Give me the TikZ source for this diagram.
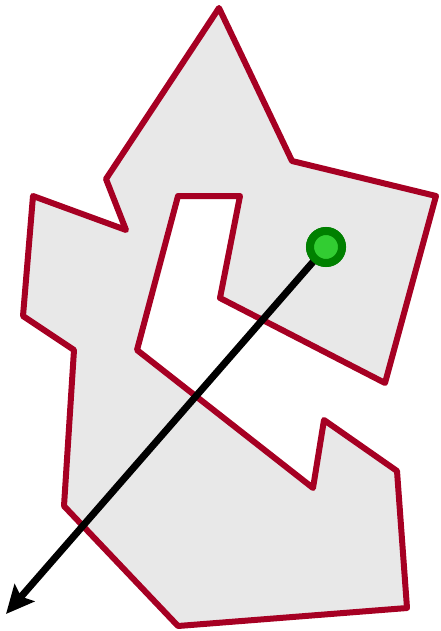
\documentclass[tikz,border=0pt]{standalone}
\usetikzlibrary{arrows.meta}
\definecolor{polyred}{RGB}{166,0,35}
\definecolor{polygray}{RGB}{232,232,232}
\definecolor{ptdark}{RGB}{0,128,0}
\definecolor{ptlight}{RGB}{50,205,50}
\begin{document}
\begin{tikzpicture}[x=1pt,y=-1pt,
  region/.style={draw=polyred,fill=polygray,line width=6pt,line join=round},
  ray/.style={line width=7pt,-{Stealth[length=28pt,width=26pt,inset=5pt]}},
  point/.style={circle,draw=ptdark,fill=ptlight,line width=8pt,minimum size=32pt,inner sep=0pt}]
  \useasboundingbox (0,0) rectangle (440,631);
  % polygon
  \draw[region] (219,8) -- (292,161) -- (436,196) -- (385,383) -- (220,298)
    -- (240,196) -- (178,196) -- (137,350) -- (313,488) -- (324,420)
    -- (397,471) -- (407,608) -- (178,626) -- (64,506) -- (74,350)
    -- (23,316) -- (33,196) -- (126,230) -- (106,179) -- cycle;
  % ray from the point
  \coordinate (end) at (6,614);
  \node[point] (p) at (326,247) {};
  \draw[ray] (p.center) -- (end);
  \node[point] at (p) {};
\end{tikzpicture}
\end{document}
